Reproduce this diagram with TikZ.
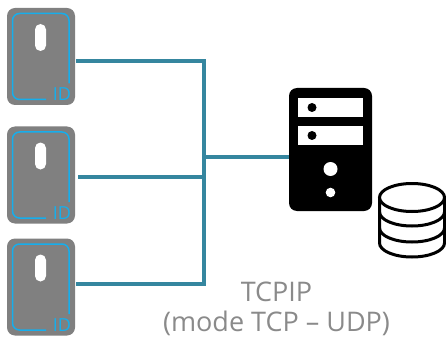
\documentclass[tikz,border=0pt]{standalone}
\usepackage{fontspec}
\setmainfont{Open Sans}
\usetikzlibrary{positioning,calc,shapes.geometric}
\definecolor{linkteal}{HTML}{35869F}
\definecolor{cardgray}{HTML}{808080}
\definecolor{idblue}{HTML}{16AEEC}
\definecolor{labelgray}{HTML}{8A8A8A}
\tikzset{
  card/.style={draw=none,fill=cardgray,rounded corners=8pt,minimum width=68pt,minimum height=97pt,inner sep=0pt},
  pill/.style={draw=none,fill=white,rounded corners=5.5pt,minimum width=11pt,minimum height=27pt,inner sep=0pt},
  link/.style={draw=linkteal,line width=4pt},
  idline/.style={draw=idblue,line width=1.5pt,rounded corners=7pt},
  slot/.style={draw=none,fill=white,minimum width=65pt,minimum height=19pt,inner sep=0pt},
  dbdisk/.style={draw=black,line width=3pt,fill=white}
}
\begin{document}
\begin{tikzpicture}[x=1pt,y=-1pt]
\useasboundingbox (0,0) rectangle (446,339);

% readers
\foreach \name/\ty in {cardA/56.5,cardB/175,cardC/287}{
  \node[card] (\name) at (41,\ty) {};%
  \node[pill] (\name pill) at (40.5,\ty-19) {};%
  \draw[idline] (46,\ty+43) -- (12.5,\ty+43) -- (12.5,\ty-43) -- (69,\ty-43) -- (69,\ty+27);%
  \node[text=idblue,font=\fontsize{18}{18}\selectfont,inner sep=0pt] (\name id) at (62,\ty+38) {ID};%
}

% server
\node[draw=none,fill=black,rounded corners=8pt,minimum width=83pt,minimum height=123pt,inner sep=0pt] (server) at (330.5,149.5) {};%
\node[slot] (slotA) at (330.5,107.5) {};%
\node[slot] (slotB) at (330.5,135.5) {};%
\fill (312,107.5) circle (4.5pt);%
\fill (312,135.5) circle (4.5pt);%
\fill[white] (330.5,169) circle (7pt);%
\fill[white] (330.5,192.5) circle (4.8pt);%

% database
\draw[dbdisk] (379.5,197.5) -- (379.5,243) arc[start angle=180,end angle=360,x radius=32.5pt,y radius=14pt] -- (444.5,197.5);%
\draw[dbdisk,fill=none] (379.5,212) arc[start angle=180,end angle=360,x radius=32.5pt,y radius=14pt];%
\draw[dbdisk,fill=none] (379.5,228) arc[start angle=180,end angle=360,x radius=32.5pt,y radius=14pt];%
\draw[dbdisk] (412,197.5) ellipse (32.5pt and 14pt);%

% links
\coordinate (busA) at (204,61.5);
\coordinate (busB) at (204,176.5);
\coordinate (busC) at (204,283.5);
\coordinate (busS) at (204,157);
\draw[link] ([xshift=1pt]cardA.east |- busA) -- (busA);%
\draw[link] ([xshift=3pt]cardB.east |- busB) -- (busB);%
\draw[link] ([xshift=1pt]cardC.east |- busC) -- (busC);%
\draw[link,line cap=rect] (busA) -- (busC);%
\draw[link] (busS) -- (server.west |- busS);%

\node[text=labelgray,font=\fontsize{27}{30}\selectfont,align=center,inner sep=0pt] (label) at (276.5,308.5) {TCPIP\\(mode TCP -- UDP)};%
\end{tikzpicture}
\end{document}
